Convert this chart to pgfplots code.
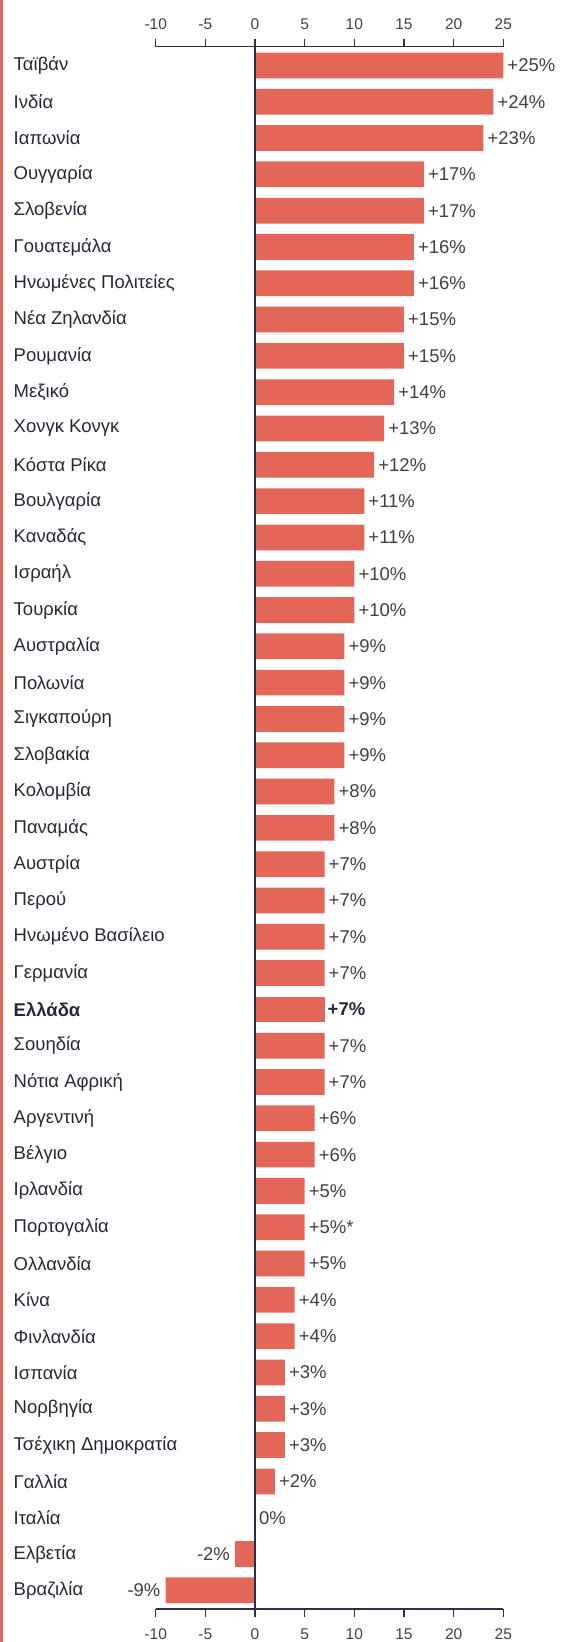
\documentclass[border=0pt]{standalone}
\usepackage{pgfplots}
\pgfplotsset{compat=1.18}
\usepackage{fontspec}
\setmainfont{Liberation Sans}
\definecolor{barc}{RGB}{228,102,89}
\definecolor{axc}{RGB}{45,47,66}
\definecolor{txt}{RGB}{38,40,56}
\definecolor{valc}{RGB}{64,64,68}
\begin{document}
\begin{tikzpicture}
\path[use as bounding box] (0pt,0pt) rectangle (563pt,1642pt);
\fill[barc] (0pt,0pt) rectangle (2.8pt,1642pt);
\pgfplotsset{common/.style={
  scale only axis, width=347.6pt, height=1562.3pt,
  at={(155.7pt,33pt)}, anchor=south west,
  xmin=-10, xmax=25, ymin=-0.515, ymax=42.515, y dir=reverse,
  xtick={-10,-5,0,5,10,15,20,25},
  tick align=outside, major tick length=8pt,
  x axis line style={axc, line width=1.3pt, -},
  xtick style={axc, line width=1.3pt},
  xticklabel style={font=\fontsize{15.5}{15.5}\selectfont, text=valc},
  /pgf/number format/assume math mode=true,
}}
\begin{axis}[common,
  axis x line*=top, axis y line=none,
  xticklabel style={yshift=6pt},
]
\end{axis}
\begin{axis}[common,
  axis x line*=bottom, axis y line*=left,
  xticklabel style={yshift=-8pt},
  y axis line style={draw=none}, ytick style={draw=none},
  xbar, bar width=0.708, bar shift=0pt,
  ytick={0,...,42},
  yticklabels={Ταϊβάν,Ινδία,Ιαπωνία,Ουγγαρία,Σλοβενία,Γουατεμάλα,Ηνωμένες Πολιτείες,Νέα Ζηλανδία,Ρουμανία,Μεξικό,Χονγκ Κονγκ,Κόστα Ρίκα,Βουλγαρία,Καναδάς,Ισραήλ,Τουρκία,Αυστραλία,Πολωνία,Σιγκαπούρη,Σλοβακία,Κολομβία,Παναμάς,Αυστρία,Περού,Ηνωμένο Βασίλειο,Γερμανία,{\bfseries Ελλάδα},Σουηδία,Νότια Αφρική,Αργεντινή,Βέλγιο,Ιρλανδία,Πορτογαλία,Ολλανδία,Κίνα,Φινλανδία,Ισπανία,Νορβηγία,Τσέχικη Δημοκρατία,Γαλλία,Ιταλία,Ελβετία,Βραζιλία},
  yticklabel style={anchor=west, inner sep=0pt, xshift=-134.2pt, font=\fontsize{18.5}{18.5}\selectfont, text=txt},
  point meta=explicit symbolic,
  nodes near coords={\pgfplotspointmeta},
]
\addplot[fill=barc, draw=none,
  every node near coord/.append style={anchor=west, inner sep=0pt, xshift=4pt, font=\fontsize{18.5}{18.5}\selectfont, text=valc}]
coordinates {
(25,0)[+25\%] (24,1)[+24\%] (23,2)[+23\%] (17,3)[+17\%] (17,4)[+17\%]
(16,5)[+16\%] (16,6)[+16\%] (15,7)[+15\%] (15,8)[+15\%] (14,9)[+14\%]
(13,10)[+13\%] (12,11)[+12\%] (11,12)[+11\%] (11,13)[+11\%] (10,14)[+10\%]
(10,15)[+10\%] (9,16)[+9\%] (9,17)[+9\%] (9,18)[+9\%] (9,19)[+9\%]
(8,20)[+8\%] (8,21)[+8\%] (7,22)[+7\%] (7,23)[+7\%] (7,24)[+7\%]
(7,25)[+7\%] (7,27)[+7\%] (7,28)[+7\%] (6,29)[+6\%] (6,30)[+6\%]
(5,31)[+5\%] (5,32)[+5\%*] (5,33)[+5\%] (4,34)[+4\%] (4,35)[+4\%]
(3,36)[+3\%] (3,37)[+3\%] (3,38)[+3\%] (2,39)[+2\%] (0,40)[0\%]
};
\addplot[fill=barc, draw=none,
  every node near coord/.append style={anchor=west, inner sep=0pt, xshift=3pt, font=\fontsize{18.5}{18.5}\selectfont\bfseries, text=txt}]
coordinates {(7,26)[+7\%]};
\addplot[fill=barc, draw=none,
  every node near coord/.append style={anchor=east, inner sep=0pt, xshift=-5pt, font=\fontsize{18.5}{18.5}\selectfont, text=valc}]
coordinates {(-2,41)[-2\%] (-9,42)[-9\%]};
\draw[axc, line width=1.3pt] (axis cs:0,-0.515) -- (axis cs:0,42.515);
\end{axis}
\end{tikzpicture}
\end{document}
